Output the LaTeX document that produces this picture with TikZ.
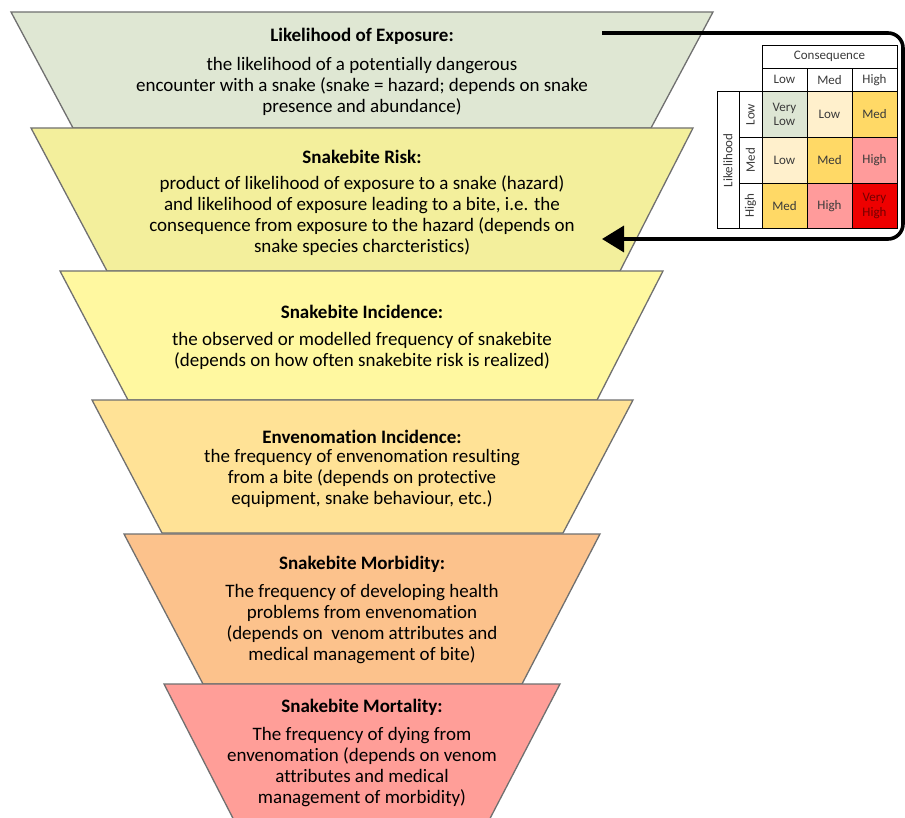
\documentclass[tikz,border=0pt]{standalone}
\usepackage{fontspec}
\setmainfont{Carlito}[Ligatures=NoCommon]
\usetikzlibrary{arrows.meta}

\definecolor{layerline}{HTML}{707070}
\definecolor{exposure}{HTML}{DFE7D3}
\definecolor{risk}{HTML}{F3EF9C}
\definecolor{incidence}{HTML}{FFF8A0}
\definecolor{envenom}{HTML}{FFE296}
\definecolor{morbid}{HTML}{FCC28C}
\definecolor{mortal}{HTML}{FF9E98}
\definecolor{celltext}{HTML}{3A3A3A}
\definecolor{verylow}{HTML}{DDE6D4}
\definecolor{low}{HTML}{FFF0CC}
\definecolor{med}{HTML}{FFD966}
\definecolor{high}{HTML}{FF9B9B}
\definecolor{veryhigh}{HTML}{EE0000}

\tikzset{
  layer/.style={draw=layerline, line width=1.3pt},
  heading/.style={inner sep=0pt, font=\fontsize{19}{21}\selectfont\bfseries},
  body/.style={inner sep=0pt, align=center, font=\fontsize{19}{21}\selectfont},
  cell/.style={draw, line width=0.8pt, minimum width=45pt, minimum height=45.7pt,
    inner sep=0pt, align=center, text=celltext, font=\fontsize{13}{14.7}\selectfont},
  feedback/.style={line width=3.6pt, rounded corners=15pt, -{Triangle[length=22pt,width=26pt]}}
}

\begin{document}
\begin{tikzpicture}[x=1pt,y=-1pt]
\clip (0,0) rectangle (905,818);

% funnel layers
\draw[layer, fill=exposure] (11,12) -- (713,12) -- (651,128) -- (73,128) -- cycle;
\draw[layer, fill=risk] (31,128) -- (693,128) -- (620,271) -- (107,271) -- cycle;
\draw[layer, fill=incidence] (60,271) -- (663,271) -- (597,400) -- (128,400) -- cycle;
\draw[layer, fill=envenom] (92,400) -- (633,400) -- (563,533) -- (162,533) -- cycle;
\draw[layer, fill=morbid] (124,534) -- (600,534) -- (522,684) -- (203,684) -- cycle;
\draw[layer, fill=mortal] (164,684) -- (560,684) -- (484,830) -- (239,830) -- cycle;

\node[heading] (exposuretitle) at (362,36) {Likelihood of Exposure:};
\node[body] (exposuretext) at (362,86) {the likelihood of a potentially dangerous\\
  encounter with a snake (snake = hazard; depends on snake\\presence and abundance)};

\node[heading] (risktitle) at (362,157) {Snakebite Risk:};
\node[body] (risktext) at (362,215.5) {product of likelihood of exposure to a snake (hazard)\\
  and likelihood of exposure leading to a bite, i.e. the\\
  consequence from exposure to the hazard (depends on\\snake species charcteristics)};

\node[heading] (incidencetitle) at (362,312) {Snakebite Incidence:};
\node[body] (incidencetext) at (362,351) {the observed or modelled frequency of snakebite\\
  (depends on how often snakebite risk is realized)};

\node[heading] (envenomtitle) at (362,437) {Envenomation Incidence:};
\node[body] (envenomtext) at (362,478) {the frequency of envenomation resulting\\
  from a bite (depends on protective\\equipment, snake behaviour, etc.)};

\node[heading] (morbidtitle) at (362,564) {Snakebite Morbidity:};
\node[body] (morbidtext) at (362,624) {The frequency of developing health\\
  problems from envenomation\\(depends on~ venom attributes and\\
  medical management of bite)};

\node[heading] (mortaltitle) at (362,707) {Snakebite Mortality:};
\node[body] (mortaltext) at (362,767) {The frequency of dying from\\
  envenomation (depends on venom\\attributes and medical\\
  management of morbidity)};

% risk matrix
\node[cell, minimum width=135pt, minimum height=23pt] (consequence) at (829.5,56.5) {Consequence};
\node[cell, minimum height=23.7pt] (clow) at (784.5,79.8) {Low};
\node[cell, minimum height=23.7pt] (cmed) at (829.5,79.8) {Med};
\node[cell, minimum height=23.7pt] (chigh) at (874.5,79.8) {High};
\node[cell, rotate=90, minimum width=137pt, minimum height=22pt] (likelihood) at (728,160.2) {Likelihood};
\node[cell, rotate=90, minimum width=45.7pt, minimum height=23pt] (llow) at (750.5,114.5) {Low};
\node[cell, rotate=90, minimum width=45.7pt, minimum height=23pt] (lmed) at (750.5,160.2) {Med};
\node[cell, rotate=90, minimum width=45.7pt, minimum height=23pt] (lhigh) at (750.5,205.9) {High};

\node[cell, fill=verylow] (m11) at (784.5,114.5) {Very\\Low};
\node[cell, fill=low] (m12) at (829.5,114.5) {Low};
\node[cell, fill=med] (m13) at (874.5,114.5) {Med};
\node[cell, fill=low] (m21) at (784.5,160.2) {Low};
\node[cell, fill=med] (m22) at (829.5,160.2) {Med};
\node[cell, fill=high] (m23) at (874.5,160.2) {High};
\node[cell, fill=med] (m31) at (784.5,205.9) {Med};
\node[cell, fill=high] (m32) at (829.5,205.9) {High};
\node[cell, fill=veryhigh, text=red!45!black] (m33) at (874.5,205.9) {Very\\High};

% loop from exposure back into risk
\coordinate (exposureout) at (602,33);
\coordinate (riskin) at (602,239);
\draw[feedback] (exposureout) -- (903,33) -- (903,239) -- (riskin);
\end{tikzpicture}
\end{document}
